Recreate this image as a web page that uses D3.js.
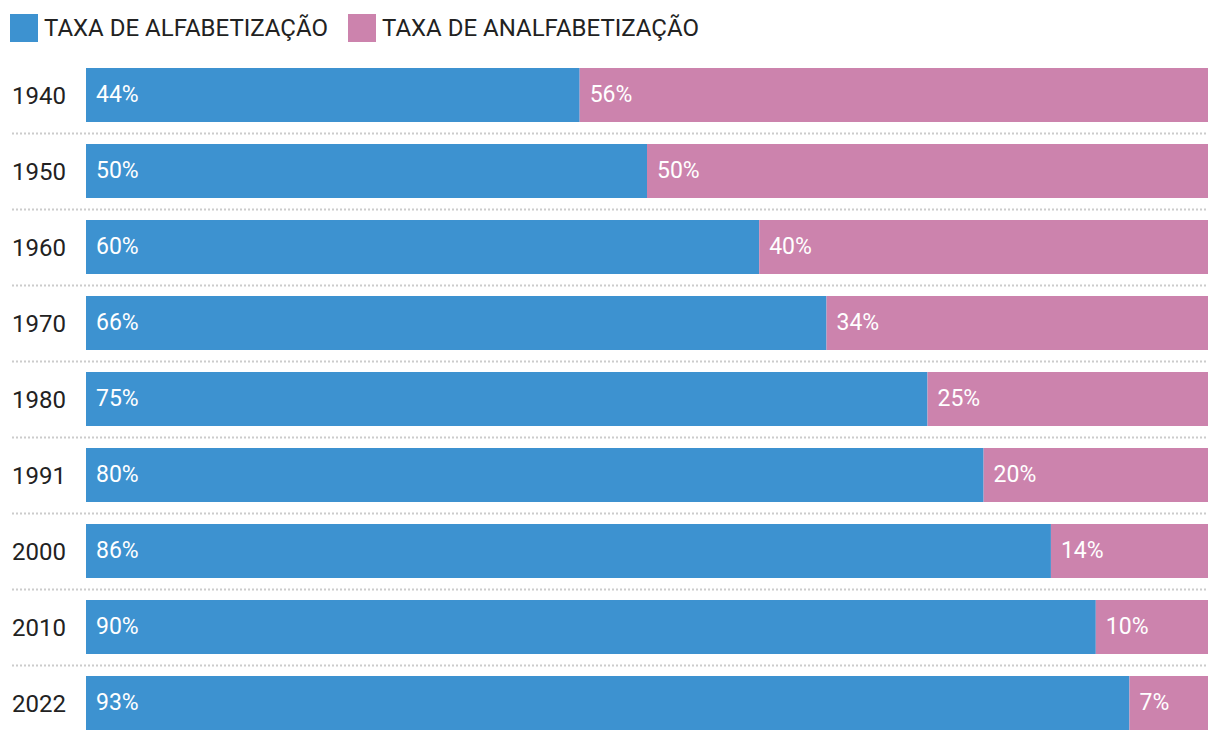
<!DOCTYPE html>
<html><head><meta charset="utf-8">
<script src="https://cdn.jsdelivr.net/npm/d3@7"></script>
<style>body{margin:0;background:#fff}svg{display:block}text{font-family:Roboto,sans-serif}</style>
</head><body><svg id="c" width="1220" height="742"></svg>
<script>
const years = ["1940","1950","1960","1970","1980","1991","2000","2010","2022"];
const alfabetizacao = [44,50,60,66,75,80,86,90,93];
const analfabetizacao = [56,50,40,34,25,20,14,10,7];
const seriesNames = ["TAXA DE ALFABETIZAÇÃO","TAXA DE ANALFABETIZAÇÃO"];
const colors = ["#3d92d0","#cc83ad"];

const svg = d3.select("#c");
const x = d3.scaleLinear().domain([0,100]).range([86,1208]);
const y = d3.scaleBand().domain(years).range([57,741]).paddingInner(22/76).paddingOuter(11/76);

const data = years.map((yr,i)=>({year:yr, a:alfabetizacao[i], b:analfabetizacao[i]}));

// legend
const leg = svg.append("g");
const lx = [10,348];
seriesNames.forEach((n,i)=>{
  leg.append("rect").attr("x",lx[i]).attr("y",14).attr("width",28).attr("height",28).attr("fill",colors[i]);
  leg.append("text").attr("x",lx[i]+34).attr("y",36).attr("font-size",24).attr("fill","#222").text(n);
});

// separators
years.slice(0,-1).forEach(yr=>{
  const yy = y(yr)+y.bandwidth()+11.5;
  svg.append("line").attr("x1",12).attr("x2",1208).attr("y1",yy).attr("y2",yy)
    .attr("stroke","#cccccc").attr("stroke-width",2).attr("stroke-dasharray","2,2");
});

const rows = svg.selectAll("g.row").data(data).join("g").attr("class","row");
rows.append("text").attr("x",12).attr("y",d=>y(d.year)+y.bandwidth()/2+9)
  .attr("font-size",24).attr("fill","#222").text(d=>d.year);
rows.append("rect").attr("x",x(0)).attr("y",d=>y(d.year)).attr("width",d=>x(d.a)-x(0))
  .attr("height",y.bandwidth()).attr("fill",colors[0]);
rows.append("rect").attr("x",d=>x(d.a)).attr("y",d=>y(d.year)).attr("width",d=>x(d.a+d.b)-x(d.a))
  .attr("height",y.bandwidth()).attr("fill",colors[1]);
rows.append("text").attr("x",x(0)+10).attr("y",d=>y(d.year)+y.bandwidth()/2+7)
  .attr("font-size",23).attr("fill","#fff").text(d=>d.a+"%");
rows.append("text").attr("x",d=>x(d.a)+10).attr("y",d=>y(d.year)+y.bandwidth()/2+7)
  .attr("font-size",23).attr("fill","#fff").text(d=>d.b+"%");
</script></body></html>
